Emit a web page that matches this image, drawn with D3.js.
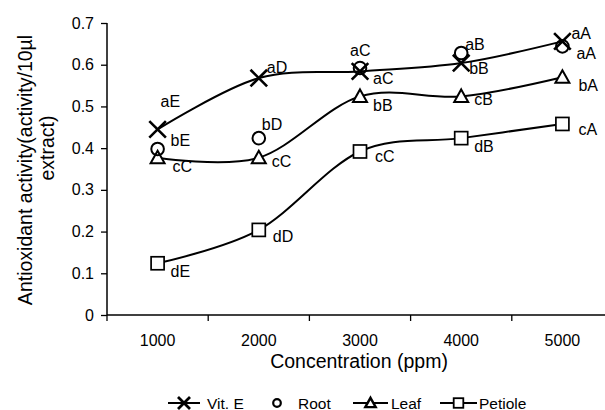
<!DOCTYPE html>
<html>
<head>
<meta charset="utf-8">
<script src="https://cdn.jsdelivr.net/npm/d3@7/dist/d3.min.js"></script>
<style>
  html, body { margin: 0; padding: 0; background: #fff; }
  svg { display: block; font-family: "Liberation Sans", Arial, sans-serif; }
</style>
</head>
<body>
<svg id="chart" width="605" height="410"></svg>
<script>
// ---- data ----
const categories = ["1000", "2000", "3000", "4000", "5000"];
const vitE    = [0.445, 0.568, 0.584, 0.604, 0.656];
const root    = [0.398, 0.424, 0.592, 0.628, 0.644];
const leaf    = [0.377, 0.377, 0.524, 0.524, 0.570];
const petiole = [0.124, 0.204, 0.392, 0.424, 0.458];
const vitELabels    = ["aE", "aD", "aC", "bB", "aA"];
const rootLabels    = ["bE", "bD", "aC", "aB", "aA"];
const leafLabels    = ["cC", "cC", "bB", "cB", "bA"];
const petioleLabels = ["dE", "dD", "cC", "dB", "cA"];
const yTicks = [0, 0.1, 0.2, 0.3, 0.4, 0.5, 0.6, 0.7];
const seriesNames = ["Vit. E", "Root", "Leaf", "Petiole"];

// ---- layout (label offsets relative to points, px) ----
const labelOffsets = {
  vitE:    [[3, -28], [8, -11], [13, 7], [8, 5], [9, -8]],
  root:    [[13, -8], [3, -14], [-10, -18], [4, -9], [14, 7]],
  leaf:    [[15, 9], [13, 4], [13, 9], [13, 3], [16, 8]],
  petiole: [[13, 8], [14, 7], [15, 5], [13, 8], [16, 6]]
};

const svg = d3.select("#chart");
const x = d3.scaleBand().domain(categories).range([107, 613]);
const y = d3.scaleLinear().domain([0, 0.7]).range([315, 23]);
const cx = c => x(c) + x.bandwidth() / 2;

// axes
const yAxis = d3.axisLeft(y).tickValues(yTicks).tickSize(6).tickPadding(7)
  .tickFormat(d => d === 0 ? "0" : d3.format(".1f")(d));
const gy = svg.append("g").attr("transform", "translate(107,0)").call(yAxis);
gy.select(".domain").attr("d", "M0,23V315").attr("stroke", "#000").attr("stroke-width", 1.5);
gy.selectAll(".tick line").attr("stroke", "#000").attr("stroke-width", 1.3);
gy.selectAll(".tick text").attr("font-size", 16).attr("fill", "#000")
  .attr("font-family", "Liberation Sans, Arial, sans-serif");

const xAxis = d3.axisBottom(x).tickSize(0).tickPadding(20);
const gx = svg.append("g").attr("transform", "translate(0,315)").call(xAxis);
gx.select(".domain").attr("d", "M107,0H613").attr("stroke", "#000").attr("stroke-width", 1.5);
gx.selectAll(".tick text").attr("font-size", 16).attr("fill", "#000")
  .attr("font-family", "Liberation Sans, Arial, sans-serif");
// boundary ticks between categories
const bounds = categories.map(c => x(c)).concat([x(categories[categories.length - 1]) + x.bandwidth()]);
gx.selectAll(".btick").data(bounds).enter().append("line")
  .attr("x1", d => d).attr("x2", d => d).attr("y1", 0).attr("y2", 6)
  .attr("stroke", "#000").attr("stroke-width", 1.3);

// axis titles
svg.append("text").attr("x", 359).attr("y", 361).attr("text-anchor", "middle")
  .attr("dominant-baseline", "central").attr("font-size", 19.5).text("Concentration (ppm)");
svg.append("text").attr("transform", "translate(25,170) rotate(-90)").attr("text-anchor", "middle")
  .attr("dominant-baseline", "central").attr("font-size", 19.5).text("Antioxidant activity(activity/10\u00b5l");
svg.append("text").attr("transform", "translate(47,148) rotate(-90)").attr("text-anchor", "middle")
  .attr("dominant-baseline", "central").attr("font-size", 19.5).text("extract)");

// lines
const line = d3.line().x((d, i) => cx(categories[i])).y(d => y(d)).curve(d3.curveCardinal.tension(0));
[vitE, leaf, petiole].forEach(s => {
  svg.append("path").attr("d", line(s)).attr("fill", "none").attr("stroke", "#000").attr("stroke-width", 2);
});

// markers
function drawMarker(g, type, px, py, s, sw) {
  if (type === "x") {
    g.append("path").attr("d", `M${px - s},${py - s}L${px + s},${py + s}M${px - s},${py + s}L${px + s},${py - s}`)
      .attr("stroke", "#000").attr("stroke-width", sw || 2.6).attr("fill", "none");
  } else if (type === "o") {
    g.append("circle").attr("cx", px).attr("cy", py).attr("r", s)
      .attr("stroke", "#000").attr("stroke-width", sw || 2).attr("fill", "none");
  } else if (type === "t") {
    g.append("path").attr("d", `M${px},${py - s}L${px + s},${py + s * 0.8}L${px - s},${py + s * 0.8}Z`)
      .attr("stroke", "#000").attr("stroke-width", sw || 2).attr("fill", "#fff");
  } else if (type === "s") {
    g.append("rect").attr("x", px - s).attr("y", py - s).attr("width", 2 * s).attr("height", 2 * s)
      .attr("stroke", "#000").attr("stroke-width", sw || 1.7).attr("fill", "#fff");
  }
}
const mg = svg.append("g");
leaf.forEach((v, i) => drawMarker(mg, "t", cx(categories[i]), y(v), 7));
petiole.forEach((v, i) => drawMarker(mg, "s", cx(categories[i]), y(v), 6.5));
root.forEach((v, i) => drawMarker(mg, "o", cx(categories[i]), y(v), 6.3));
vitE.forEach((v, i) => drawMarker(mg, "x", cx(categories[i]), y(v), 8.3));

// point labels
const lg = svg.append("g").attr("font-size", 16).attr("fill", "#000");
[[vitE, vitELabels, "vitE"], [root, rootLabels, "root"], [leaf, leafLabels, "leaf"], [petiole, petioleLabels, "petiole"]]
  .forEach(([vals, labs, key]) => {
    vals.forEach((v, i) => {
      const o = labelOffsets[key][i];
      lg.append("text").attr("x", cx(categories[i]) + o[0]).attr("y", y(v) + o[1])
        .attr("dominant-baseline", "central").text(labs[i]);
    });
  });

// legend
const leg = svg.append("g").attr("font-size", 15.5);
const ly = 403;
const legendItems = [
  { name: seriesNames[0], type: "x", x0: 168, x1: 200, tx: 207, line: true, s: 6, sw: 2.8 },
  { name: seriesNames[1], type: "o", x0: 277, x1: 277, tx: 298, line: false, s: 3.8, sw: 2.2 },
  { name: seriesNames[2], type: "t", x0: 353, x1: 388, tx: 391, line: true, s: 5.2, sw: 2.4 },
  { name: seriesNames[3], type: "s", x0: 440, x1: 477, tx: 479, line: true, s: 4.8, sw: 1.8 }
];
legendItems.forEach(it => {
  if (it.line) leg.append("line").attr("x1", it.x0).attr("x2", it.x1).attr("y1", ly).attr("y2", ly)
    .attr("stroke", "#000").attr("stroke-width", 2);
  drawMarker(leg, it.type, (it.x0 + it.x1) / 2, ly, it.s, it.sw);
  leg.append("text").attr("x", it.tx).attr("y", ly).attr("dominant-baseline", "central").text(it.name);
});
</script>
</body>
</html>
